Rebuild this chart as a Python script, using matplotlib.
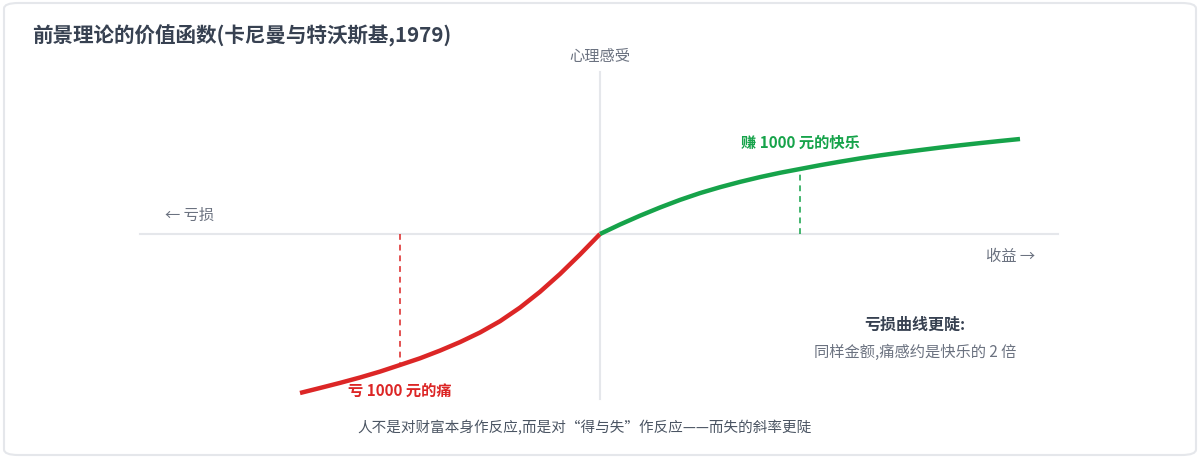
import numpy as np
import matplotlib
matplotlib.use('Agg')
import matplotlib.pyplot as plt
from matplotlib.patches import FancyBboxPatch

plt.rcParams['font.family'] = ['Noto Sans CJK SC', 'DejaVu Sans']

# value function (x: money, y: felt value)
gain_x = [0, 100, 200, 300, 400, 500, 600, 700, 800, 900, 1000,
          1100, 1200, 1300, 1400, 1500, 1600, 1700, 1800, 1900, 2000, 2100]
gain_y = [0, 9.5, 18.3, 26.5, 34.1, 40.9, 46.8, 52.1, 56.9, 61.2, 65,
          68.8, 72.3, 75.6, 78.6, 81.3, 83.9, 86.4, 88.7, 90.9, 93, 95]
loss_x = [0, -100, -200, -300, -400, -500, -600, -700, -800, -900, -1000,
          -1100, -1200, -1300, -1400, -1500]
loss_y = [0, -20.5, -40, -57.8, -73.6, -87.2, -98.5, -108.1, -116.6, -124.3, -131,
          -137.6, -143.5, -148.9, -154, -159]
mark_amount = 1000

title = "前景理论的价值函数(卡尼曼与特沃斯基,1979)"
caption = "人不是对财富本身作反应,而是对“得与失”作反应——而失的斜率更陡"

GREEN = '#16a34a'
RED = '#dc2626'
AXIS = '#e5e7eb'
DARK = '#374151'
GREY = '#6b7280'

fig = plt.figure(figsize=(12, 4.6), dpi=100)
fig.patch.set_facecolor('white')

card = FancyBboxPatch((4 / 1200, 4 / 460), 1192 / 1200, 452 / 460,
                      boxstyle="round,pad=0,rounding_size=0.012",
                      transform=fig.transFigure, facecolor='none',
                      edgecolor=AXIS, linewidth=1.5, zorder=-10)
fig.patches.append(card)

ax = fig.add_axes([0, 0, 1, 1])
ax.set_xlim(-3000, 3000)
ax.set_ylim(-225, 235)
ax.axis('off')

# axes
ax.plot([-2300, 2290], [0, 0], color=AXIS, lw=1.5, zorder=1)
ax.plot([0, 0], [-165, 162], color=AXIS, lw=1.5, zorder=1)

# curves
ax.plot(loss_x, loss_y, color=RED, lw=3.2, solid_capstyle='butt', solid_joinstyle='round', zorder=3)
ax.plot(gain_x, gain_y, color=GREEN, lw=3.2, solid_capstyle='butt', solid_joinstyle='round', zorder=3)

# dashed markers at +/- 1000
gy = gain_y[gain_x.index(mark_amount)]
ly = loss_y[loss_x.index(-mark_amount)]
ax.plot([mark_amount, mark_amount], [0, gy], color=GREEN, lw=1.4, ls=(0, (3, 2.5)), alpha=0.8, zorder=2)
ax.plot([-mark_amount, -mark_amount], [0, ly], color=RED, lw=1.4, ls=(0, (3, 2.5)), alpha=0.8, zorder=2)

ax.text(mark_amount, 92, "赚 1000 元的快乐", color=GREEN, fontsize=11, fontweight='bold',
        ha='center', va='center')
ax.text(-1000, -156, "亏 1000 元的痛", color=RED, fontsize=11, fontweight='bold',
        ha='center', va='center')

ax.text(0, 178, "心理感受", color=GREY, fontsize=11, ha='center', va='center')
ax.text(-2175, 20, "← 亏损", color=GREY, fontsize=11, ha='left', va='center')
ax.text(2175, -22, "收益 →", color=GREY, fontsize=11, ha='right', va='center')

ax.text(1575, -90, "亏损曲线更陡:", color=DARK, fontsize=11.5, fontweight='bold',
        ha='center', va='center')
ax.text(1575, -117, "同样金额,痛感约是快乐的 2 倍", color=GREY, fontsize=11,
        ha='center', va='center')

ax.text(-75, -193, caption, color='#4b5563', fontsize=10.5, ha='center', va='center')

fig.text(32 / 1200, 1 - 36 / 460, title, color=DARK, fontsize=14.8, fontweight='bold',
         ha='left', va='center')

fig.savefig('out.png', dpi=100)
